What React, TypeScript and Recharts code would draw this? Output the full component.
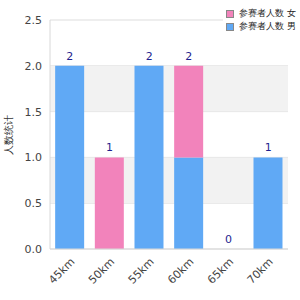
import {
  ComposedChart, Bar, Line, XAxis, YAxis, CartesianGrid, LabelList, ReferenceArea,
} from 'recharts'

const categories = ['45km', '50km', '55km', '60km', '65km', '70km']
const femaleCounts = [0, 1, 0, 1, 0, 0]
const maleCounts = [2, 0, 2, 1, 0, 1]
const yTicks = [0, 0.5, 1, 1.5, 2, 2.5]

const seriesNames = ['参赛者人数 女', '参赛者人数 男']
const yTitle = '人数统计'

const PINK = '#f283bb'
const BLUE = '#60a9f5'

export default function App() {
  const data = categories.map((c, i) => ({
    name: c,
    female: femaleCounts[i],
    male: maleCounts[i],
    total: femaleCounts[i] + maleCounts[i],
  }))

  return (
    <div style={{ position: 'absolute', left: 0, top: 0, width: 300, height: 300, fontFamily: '"DejaVu Sans", sans-serif', background: '#fff' }}>
      <ComposedChart width={300} height={300} data={data} margin={{ top: 20, right: 12, left: 0, bottom: 4 }} barCategoryGap="13%">
        <ReferenceArea y1={0.5} y2={1} fill="#f2f2f2" fillOpacity={1} stroke="none" />
        <ReferenceArea y1={1.5} y2={2} fill="#f2f2f2" fillOpacity={1} stroke="none" />
        <CartesianGrid vertical={false} stroke="#dddddd" />
        <XAxis
          dataKey="name"
          height={47}
          stroke="#d8d8d8"
          tickLine={false}
          interval={0}
          angle={-45}
          textAnchor="end"
          tick={{ fontSize: 11, fill: '#444' }}
        />
        <YAxis
          width={50}
          domain={[0, 2.5]}
          ticks={yTicks}
          stroke="#d8d8d8"
          tickLine={false}
          tickFormatter={(v: number) => v.toFixed(1)}
          tick={{ fontSize: 11, fill: '#444' }}
          label={{ value: yTitle, angle: -90, position: 'insideLeft', offset: 0, dx: 8, style: { fontSize: 10, fill: '#333', textAnchor: 'middle' } }}
        />
        <YAxis yAxisId="right" orientation="right" width={0} domain={[0, 2.5]} stroke="#d8d8d8" tick={false} tickLine={false} />
        <Bar dataKey="male" stackId="a" fill={BLUE} isAnimationActive={false} />
        <Bar dataKey="female" stackId="a" fill={PINK} isAnimationActive={false} />
        <Line dataKey="total" stroke="none" dot={false} activeDot={false} isAnimationActive={false}>
          <LabelList dataKey="total" position="top" offset={6} style={{ fontSize: 11, fill: '#1f1f8f' }} />
        </Line>
      </ComposedChart>
      <div style={{ position: 'absolute', left: 223, top: 5, width: 76, background: '#fff', fontSize: 9, color: '#222', lineHeight: '13px', padding: '2px 0 2px 3px' }}>
        {seriesNames.map((n, i) => (
          <div key={n} style={{ display: 'flex', alignItems: 'center', height: 13 }}>
            <span style={{ flexShrink: 0, boxSizing: 'border-box', display: 'inline-block', width: 8, height: 8, border: '1px solid #888', background: i === 0 ? PINK : BLUE, marginRight: 5 }} />
            <span style={{ whiteSpace: 'nowrap' }}>{n}</span>
          </div>
        ))}
      </div>
    </div>
  )
}
